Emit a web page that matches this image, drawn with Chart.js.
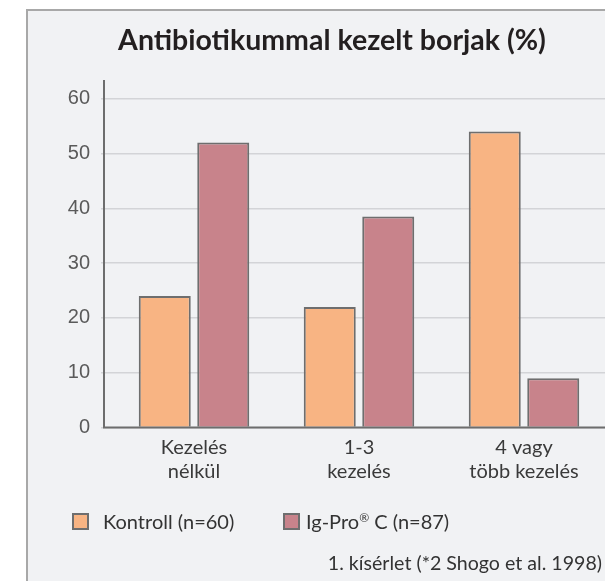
<!DOCTYPE html>
<html><head><meta charset="utf-8">
<script src="https://cdn.jsdelivr.net/npm/chart.js@4.4.1/dist/chart.umd.min.js"></script>
<style>
html,body{margin:0;padding:0;background:#fff;width:605px;height:581px;overflow:hidden;position:relative;}
#panel{position:absolute;left:26px;top:9px;width:620px;height:620px;border-left:2px solid #a8a8a8;border-top:2px solid #a8a8a8;background:#f1f2f4;}
#wrap{position:absolute;left:0;top:0;width:607px;height:581px;}
.lg{position:absolute;font-family:Lato,sans-serif;font-size:20px;line-height:24px;height:24px;color:#333;white-space:nowrap;}
.lg .sup{font-size:12px;line-height:0;position:relative;top:-7px;}
.lgbox{position:absolute;width:17px;height:17px;box-sizing:border-box;border:2px solid #6e6e6e;}
#note{position:absolute;right:3px;top:551px;font-family:Lato,sans-serif;font-size:19.6px;line-height:24px;color:#333;white-space:nowrap;}
</style></head><body>
<div id="panel"></div>
<div id="wrap"><canvas id="c" width="607" height="581"></canvas></div>
<div id="legend"></div>
<div id="note">1. kísérlet (*2 Shogo et al. 1998)</div>
<script>
const titleText = "Antibiotikummal kezelt borjak (%)";
const categories = [["Kezelés","nélkül"],["1-3","kezelés"],["4 vagy","több kezelés"]];
const seriesNames = ["Kontroll (n=60)","Ig-Pro® C (n=87)"];
const kontroll = [24, 22, 54];
const igpro = [52, 38.5, 9];
const yTicks = [0, 10, 20, 30, 40, 50, 60];
const seriesColors = ["#f8b483", "#c8838b"];

const axisLines = {
  id: 'axisLines',
  afterDatasetsDraw(chart) {
    const {ctx, chartArea: a} = chart;
    const x0 = a.left - 7.5;
    ctx.save();
    ctx.strokeStyle = '#6d6d6d';
    ctx.lineWidth = 2;
    ctx.beginPath();
    ctx.moveTo(x0, a.top);
    ctx.lineTo(x0, a.bottom);
    ctx.lineTo(a.right + 2, a.bottom);
    ctx.stroke();
    ctx.restore();
  }
};

const chart = new Chart(document.getElementById('c'), {
  type: 'bar',
  data: {
    labels: categories,
    datasets: [
      {label: seriesNames[0], data: kontroll, backgroundColor: seriesColors[0], borderColor: '#6e6e6e', borderWidth: 2},
      {label: seriesNames[1], data: igpro, backgroundColor: seriesColors[1], borderColor: '#6e6e6e', borderWidth: 2}
    ]
  },
  options: {
    responsive: false,
    animation: false,
    devicePixelRatio: 1,
    categoryPercentage: 0.709,
    barPercentage: 0.889,
    layout: {padding: {left: 57.5, right: 0.5, top: 0, bottom: 0}},
    plugins: {
      legend: {display: false},
      tooltip: {enabled: false},
      title: {
        display: true, text: titleText, color: '#231f20',
        font: {family: 'Lato', size: 28.5, weight: 'bold', lineHeight: 1.2},
        padding: {top: 24, bottom: 21.8}
      }
    },
    scales: {
      x: {
        grid: {display: false, drawTicks: false},
        border: {display: false},
        ticks: {color: '#3a3a3a', font: {family: 'Lato', size: 20, lineHeight: 1.2}, padding: 8.5, maxRotation: 0, autoSkip: false},
        afterFit(s) { s.height = 153.5; }
      },
      y: {
        min: 0, max: 63.4,
        afterBuildTicks(s) { s.ticks = yTicks.map(v => ({value: v})); },
        grid: {color: '#d3d4d7', lineWidth: 1.5, tickLength: 10.5, drawTicks: true},
        border: {display: false},
        ticks: {color: '#5a5a5a', font: {family: 'Liberation Sans', size: 20}, padding: 11},
        afterFit(s) { s.width = 54; }
      }
    }
  },
  plugins: [axisLines]
});

// legend built from the chart's datasets
const legend = document.getElementById('legend');
const itemLeft = [72, 283];
const textLeft = [103, 306];
chart.data.datasets.forEach((ds, i) => {
  const box = document.createElement('div');
  box.className = 'lgbox';
  box.style.left = itemLeft[i] + 'px';
  box.style.top = '513px';
  box.style.background = ds.backgroundColor;
  const t = document.createElement('div');
  t.className = 'lg';
  t.style.left = textLeft[i] + 'px';
  t.style.top = '509px';
  ds.label.split('®').forEach((part, j) => {
    if (j > 0) {
      const s = document.createElement('span');
      s.className = 'sup';
      s.textContent = '®';
      t.appendChild(s);
    }
    t.appendChild(document.createTextNode(part));
  });
  legend.appendChild(box);
  legend.appendChild(t);
});
</script>
</body></html>
